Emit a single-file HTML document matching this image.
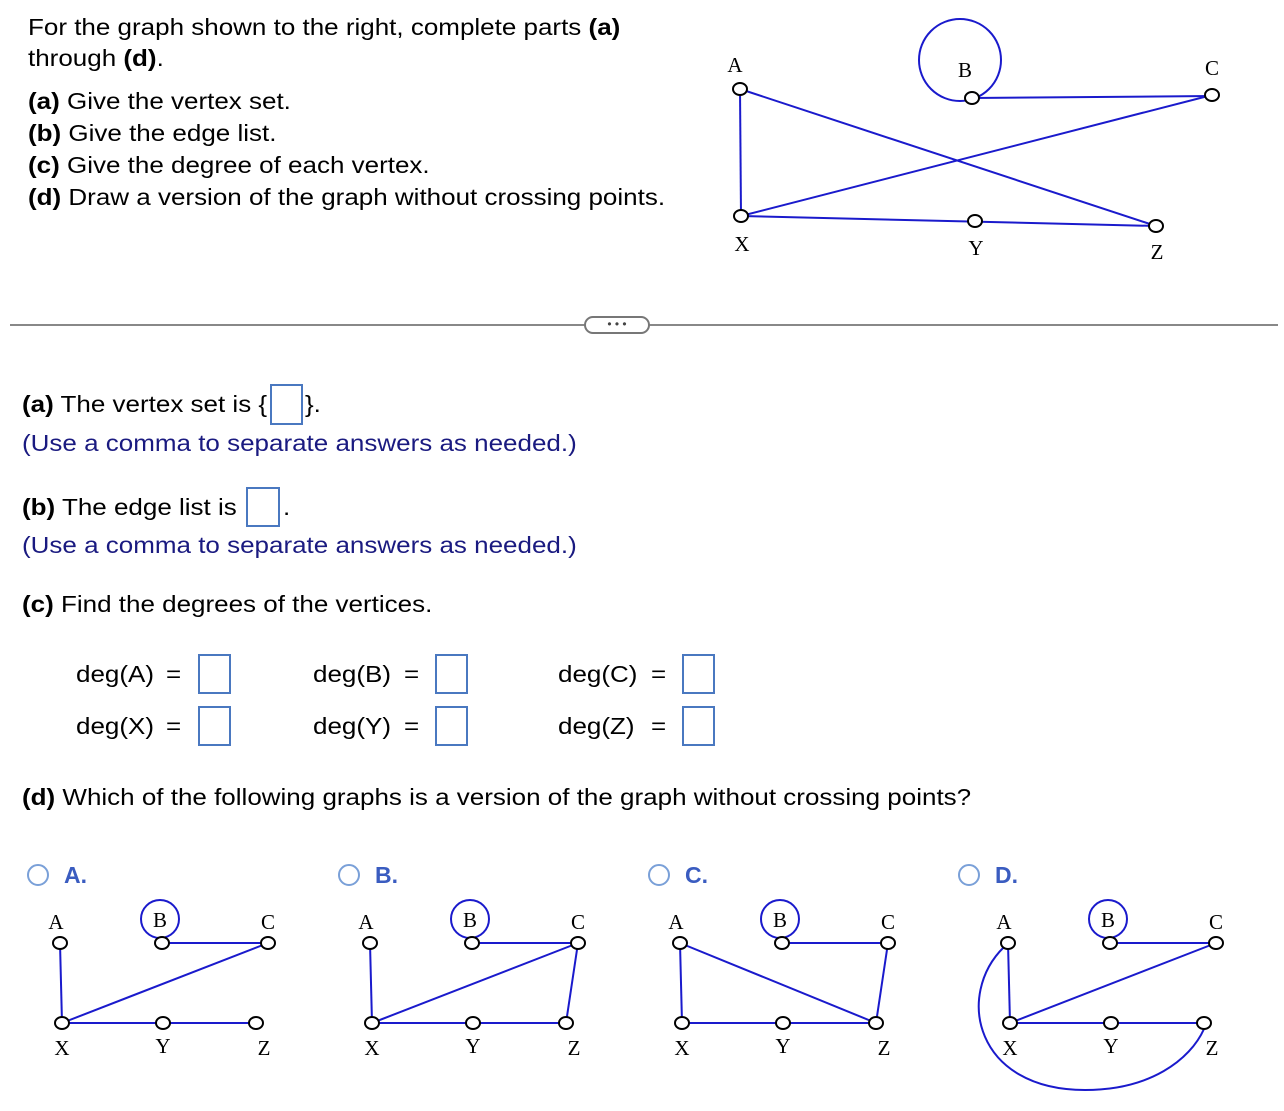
<!DOCTYPE html>
<html><head><style>
body{margin:0;width:1284px;height:1111px;background:#fff;position:relative;font-family:"Liberation Sans",Arial,sans-serif;color:#000;overflow:hidden}
.t{position:absolute;font-size:23px;white-space:nowrap;line-height:28px;transform:scaleX(1.13);transform-origin:0 0}
.b{font-weight:bold}
.n{color:#1a1a80}
.box{position:absolute;border:2px solid #4a78c0;box-sizing:border-box;background:#fff}
.r{position:absolute;width:22px;height:22px;border:2px solid #7aa0d8;border-radius:50%;box-sizing:border-box}
.rl{position:absolute;font-size:23px;font-weight:bold;color:#3a5cc0;line-height:28px}
svg{position:absolute;left:0;top:0}
</style></head><body>
<div class="t" style="left:28px;top:13px">For the graph shown to the right, complete parts <span class="b">(a)</span></div>
<div class="t" style="left:28px;top:44px">through <span class="b">(d)</span>.</div>
<div class="t" style="left:28px;top:87px"><span class="b">(a)</span> Give the vertex set.</div>
<div class="t" style="left:28px;top:119px"><span class="b">(b)</span> Give the edge list.</div>
<div class="t" style="left:28px;top:151px"><span class="b">(c)</span> Give the degree of each vertex.</div>
<div class="t" style="left:28px;top:183px"><span class="b">(d)</span> Draw a version of the graph without crossing points.</div>

<div style="position:absolute;left:10px;top:324px;width:1268px;height:2px;background:#888"></div>
<div style="position:absolute;left:584px;top:316px;width:62px;height:14px;border:2px solid #777;border-radius:9px;background:#fff;font-size:12px;text-align:center;line-height:12px;color:#444">• • •</div>

<div class="t" style="left:22px;top:390px"><span class="b">(a)</span> The vertex set is {</div>
<div class="box" style="left:270px;top:384px;width:33px;height:41px"></div>
<div class="t" style="left:305px;top:390px">}.</div>
<div class="t n" style="left:22px;top:429px">(Use a comma to separate answers as needed.)</div>
<div class="t" style="left:22px;top:493px"><span class="b">(b)</span> The edge list is</div>
<div class="box" style="left:246px;top:487px;width:34px;height:40px"></div>
<div class="t" style="left:283px;top:493px">.</div>
<div class="t n" style="left:22px;top:531px">(Use a comma to separate answers as needed.)</div>
<div class="t" style="left:22px;top:590px"><span class="b">(c)</span> Find the degrees of the vertices.</div>

<div class="t" style="left:76px;top:660px">deg(A)</div><div class="t" style="left:166px;top:660px">=</div><div class="box" style="left:198px;top:654px;width:33px;height:40px"></div>
<div class="t" style="left:313px;top:660px">deg(B)</div><div class="t" style="left:404px;top:660px">=</div><div class="box" style="left:435px;top:654px;width:33px;height:40px"></div>
<div class="t" style="left:558px;top:660px">deg(C)</div><div class="t" style="left:651px;top:660px">=</div><div class="box" style="left:682px;top:654px;width:33px;height:40px"></div>
<div class="t" style="left:76px;top:712px">deg(X)</div><div class="t" style="left:166px;top:712px">=</div><div class="box" style="left:198px;top:706px;width:33px;height:40px"></div>
<div class="t" style="left:313px;top:712px">deg(Y)</div><div class="t" style="left:404px;top:712px">=</div><div class="box" style="left:435px;top:706px;width:33px;height:40px"></div>
<div class="t" style="left:558px;top:712px">deg(Z)</div><div class="t" style="left:651px;top:712px">=</div><div class="box" style="left:682px;top:706px;width:33px;height:40px"></div>

<div class="t" style="left:22px;top:783px"><span class="b">(d)</span> Which of the following graphs is a version of the graph without crossing points?</div>

<div class="r" style="left:27px;top:864px"></div><div class="rl" style="left:64px;top:861px">A.</div>
<div class="r" style="left:338px;top:864px"></div><div class="rl" style="left:375px;top:861px">B.</div>
<div class="r" style="left:648px;top:864px"></div><div class="rl" style="left:685px;top:861px">C.</div>
<div class="r" style="left:958px;top:864px"></div><div class="rl" style="left:995px;top:861px">D.</div>

<svg width="1284" height="1111" font-family="Liberation Serif, serif" font-size="21" text-anchor="middle">
<defs>
<g id="base">
<g stroke="#1a1acc" stroke-width="2" fill="none">
<line x1="60" y1="943" x2="62" y2="1023"/>
<line x1="162" y1="943" x2="268" y2="943"/><line x1="62" y1="1023" x2="256" y2="1023"/>
<circle cx="160" cy="919" r="19"/>
</g>
</g>
<g id="nodes">
<g stroke="#000" stroke-width="2" fill="#fff">
<ellipse cx="60" cy="943" rx="7" ry="6"/><ellipse cx="162" cy="943" rx="7" ry="6"/><ellipse cx="268" cy="943" rx="7" ry="6"/>
<ellipse cx="62" cy="1023" rx="7" ry="6"/><ellipse cx="163" cy="1023" rx="7" ry="6"/><ellipse cx="256" cy="1023" rx="7" ry="6"/>
</g>
<g fill="#000" stroke="none"><text x="56" y="929">A</text><text x="160" y="927">B</text><text x="268" y="929">C</text>
<text x="62" y="1055">X</text><text x="163" y="1053">Y</text><text x="264" y="1055">Z</text></g>
</g>
</defs>
<g stroke="#1a1acc" stroke-width="2" fill="none">
<line x1="740" y1="89" x2="741" y2="216"/>
<line x1="740" y1="89" x2="1156" y2="226"/>
<line x1="741" y1="216" x2="1212" y2="95"/>
<line x1="741" y1="216" x2="1156" y2="226"/>
<line x1="972" y1="98" x2="1212" y2="96"/>
<circle cx="960" cy="60" r="41"/>
</g>
<g stroke="#000" stroke-width="2" fill="#fff">
<ellipse cx="740" cy="89" rx="7" ry="6"/><ellipse cx="972" cy="98" rx="7" ry="6"/><ellipse cx="1212" cy="95" rx="7" ry="6"/>
<ellipse cx="741" cy="216" rx="7" ry="6"/><ellipse cx="975" cy="221" rx="7" ry="6"/><ellipse cx="1156" cy="226" rx="7" ry="6"/>
</g>
<g fill="#000">
<text x="735" y="72">A</text><text x="965" y="77">B</text><text x="1212" y="75">C</text>
<text x="742" y="251">X</text><text x="976" y="255">Y</text><text x="1157" y="259">Z</text>
</g>

<use href="#base" x="0"/><use href="#base" x="310"/><use href="#base" x="620"/><use href="#base" x="948"/>
<g stroke="#1a1acc" stroke-width="2" fill="none">
<line x1="62" y1="1023" x2="268" y2="943"/>
<line x1="372" y1="1023" x2="578" y2="943"/>
<line x1="578" y1="943" x2="566" y2="1023"/>
<line x1="888" y1="943" x2="876" y2="1023"/>
<line x1="680" y1="943" x2="876" y2="1023"/>
<line x1="1010" y1="1023" x2="1216" y2="943"/>
<path d="M1004,947 C955,995 975,1090 1085,1090 C1150,1090 1190,1060 1204,1029"/>
</g>
<use href="#nodes" x="0"/><use href="#nodes" x="310"/><use href="#nodes" x="620"/><use href="#nodes" x="948"/>
</svg>
</body></html>
